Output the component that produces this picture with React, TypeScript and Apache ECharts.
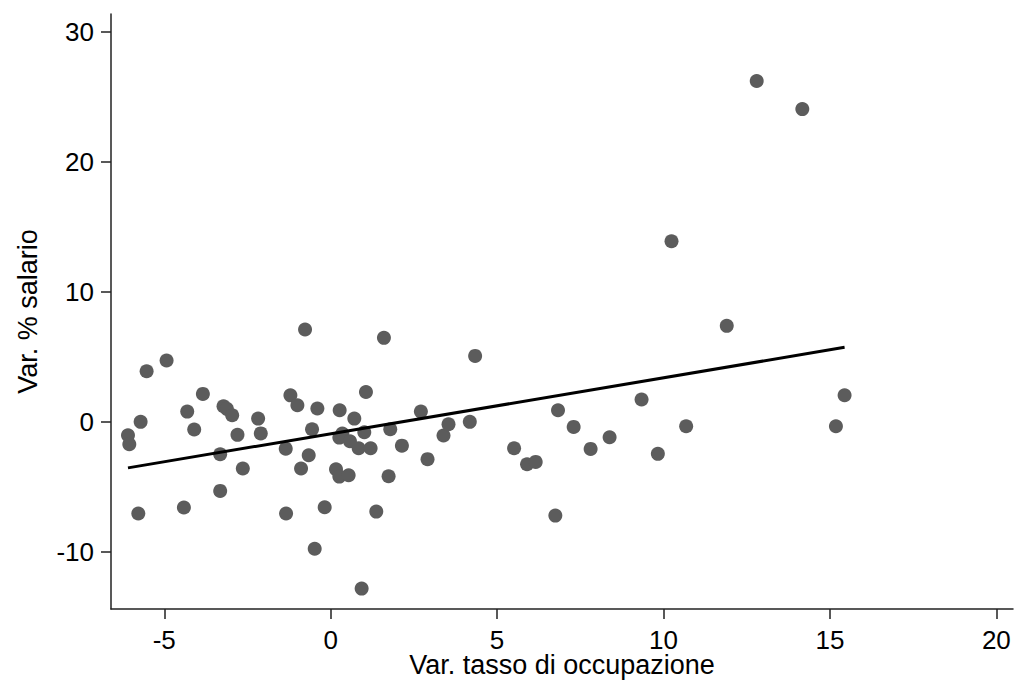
import React, { useEffect, useRef } from "react";
import * as echarts from "echarts";

// Variazione del tasso di occupazione (x) e variazione % del salario (y)
const occupazione: number[] = [
  -6.09, -6.05, -5.71, -5.53, -5.78, -4.93, -4.31, -4.41, -4.1, -3.84,
  -3.32, -3.32, -3.22, -3.12, -2.96, -2.8, -2.64, -2.18, -2.1, -1.35,
  -1.34, -1.21, -1.0, -0.89, -0.77, -0.66, -0.56, -0.48, -0.4, -0.18,
  0.16, 0.26, 0.26, 0.27, 0.35, 0.54, 0.58, 0.71, 0.84, 0.93,
  1.01, 1.06, 1.2, 1.37, 1.6, 1.74, 1.79, 2.14, 2.71, 2.91,
  3.39, 3.54, 4.18, 4.34, 5.51, 5.9, 6.16, 6.75, 6.83, 7.3,
  7.81, 8.38, 9.34, 9.83, 10.24, 10.68, 11.9, 12.8, 14.17, 15.18,
  15.44,
];

const salario: number[] = [
  -1.04, -1.73, -0.01, 3.88, -7.06, 4.71, 0.78, -6.6, -0.6, 2.14,
  -2.5, -5.32, 1.19, 0.99, 0.5, -1.01, -3.6, 0.24, -0.9, -2.07,
  -7.06, 2.03, 1.27, -3.6, 7.09, -2.58, -0.58, -9.77, 1.02, -6.58,
  -3.65, -1.22, -4.22, 0.88, -0.91, -4.12, -1.5, 0.24, -2.04, -12.83,
  -0.81, 2.29, -2.04, -6.91, 6.45, -4.19, -0.58, -1.84, 0.78, -2.88,
  -1.06, -0.19, -0.01, 5.06, -2.04, -3.27, -3.09, -7.22, 0.88, -0.4,
  -2.09, -1.19, 1.71, -2.47, 13.88, -0.35, 7.37, 26.2, 24.04, -0.35,
  2.04,
];

// Retta di regressione: estremi [x, y]
const rettaX: number[] = [-6.09, 15.44];
const rettaY: number[] = [-3.55, 5.72];

const xTicks: number[] = [-5, 0, 5, 10, 15, 20];
const yTicks: number[] = [-10, 0, 10, 20, 30];

const FONT = "'Liberation Sans', Arial, Helvetica, sans-serif";

export default function App() {
  const ref = useRef<HTMLDivElement>(null);

  useEffect(() => {
    if (!ref.current) return;
    document.body.style.margin = "0";
    const chart = echarts.init(ref.current, undefined, {
      renderer: "svg",
      width: 1014,
      height: 681,
    });

    const punti = occupazione.map((x, i) => [x, salario[i]]);
    const retta = rettaX.map((x, i) => [x, rettaY[i]]);

    const axisCommon = {
      axisLine: { show: true, onZero: false, lineStyle: { color: "#222", width: 1.5 } },
      axisTick: { show: true, length: 10, inside: false, lineStyle: { color: "#222", width: 1.5 } },
      splitLine: { show: false },
      nameMoveOverlap: false,
      nameTextStyle: { fontFamily: FONT, fontSize: 27, lineHeight: 22, color: "#000" },
    };

    chart.setOption({
      animation: false,
      backgroundColor: "#fff",
      grid: {
        left: 111,
        right: 1,
        top: 14,
        bottom: 72,
        containLabel: false,
        outerBoundsMode: "none",
      },
      xAxis: {
        type: "value",
        min: -6.6,
        max: 20.5,
        name: "Var. tasso di occupazione",
        nameLocation: "middle",
        nameGap: 45,
        ...axisCommon,
        axisTick: { ...axisCommon.axisTick, customValues: xTicks },
        axisLabel: {
          customValues: xTicks,
          margin: 21,
          fontFamily: FONT,
          fontSize: 26,
          lineHeight: 20,
          color: "#000",
        },
      },
      yAxis: {
        type: "value",
        min: -14.4,
        max: 31.35,
        name: "Var. % salario",
        nameLocation: "middle",
        nameGap: 70,
        nameRotate: 90,
        ...axisCommon,
        nameTextStyle: { fontFamily: FONT, fontSize: 27, color: "#000" },
        axisTick: { ...axisCommon.axisTick, customValues: yTicks },
        axisLabel: {
          customValues: yTicks,
          margin: 17,
          fontFamily: FONT,
          fontSize: 26,
          color: "#000",
        },
      },
      series: [
        {
          type: "scatter",
          data: punti,
          symbol: "circle",
          symbolSize: 14,
          itemStyle: { color: "#5c5c5c", opacity: 1 },
          emphasis: { disabled: true },
          z: 2,
        },
        {
          type: "line",
          data: retta,
          symbol: "none",
          lineStyle: { color: "#000", width: 3 },
          z: 3,
        },
      ],
    });

    return () => chart.dispose();
  }, []);

  return <div ref={ref} style={{ width: 1014, height: 681, background: "#fff" }} />;
}
